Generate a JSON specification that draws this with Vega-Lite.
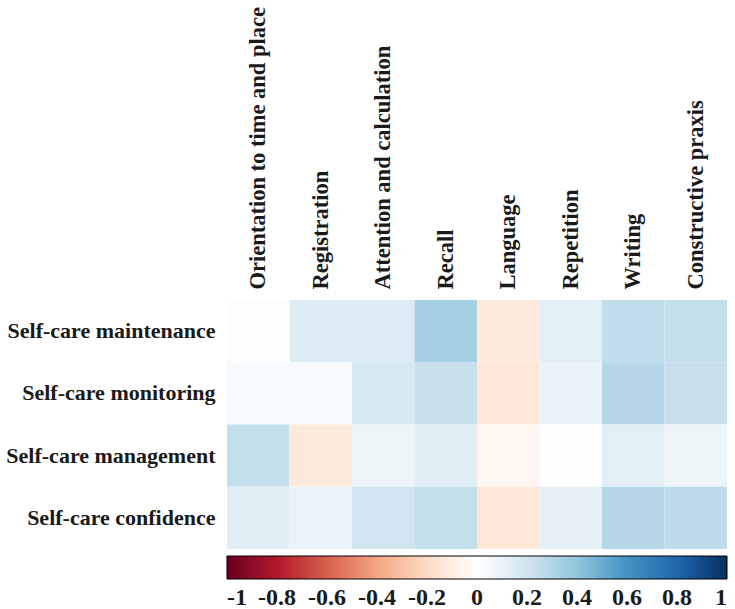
{
  "$schema": "https://vega.github.io/schema/vega-lite/v6.json",
  "autosize": {"type": "none"},
  "padding": {"left": 227, "top": 300, "right": 8, "bottom": 60},
  "width": 500,
  "height": 249,
  "background": "white",
  "config": {"view": {"stroke": null}, "font": "'Liberation Serif', 'Times New Roman', serif"},
  "data": {"values": [
    {"row": "Self-care maintenance", "col": "Orientation to time and place", "r": -0.01},
    {"row": "Self-care maintenance", "col": "Registration", "r": 0.15},
    {"row": "Self-care maintenance", "col": "Attention and calculation", "r": 0.15},
    {"row": "Self-care maintenance", "col": "Recall", "r": 0.34},
    {"row": "Self-care maintenance", "col": "Language", "r": -0.12},
    {"row": "Self-care maintenance", "col": "Repetition", "r": 0.12},
    {"row": "Self-care maintenance", "col": "Writing", "r": 0.25},
    {"row": "Self-care maintenance", "col": "Constructive praxis", "r": 0.24},
    {"row": "Self-care monitoring", "col": "Orientation to time and place", "r": 0.04},
    {"row": "Self-care monitoring", "col": "Registration", "r": 0.04},
    {"row": "Self-care monitoring", "col": "Attention and calculation", "r": 0.18},
    {"row": "Self-care monitoring", "col": "Recall", "r": 0.23},
    {"row": "Self-care monitoring", "col": "Language", "r": -0.14},
    {"row": "Self-care monitoring", "col": "Repetition", "r": 0.1},
    {"row": "Self-care monitoring", "col": "Writing", "r": 0.29},
    {"row": "Self-care monitoring", "col": "Constructive praxis", "r": 0.23},
    {"row": "Self-care management", "col": "Orientation to time and place", "r": 0.24},
    {"row": "Self-care management", "col": "Registration", "r": -0.12},
    {"row": "Self-care management", "col": "Attention and calculation", "r": 0.08},
    {"row": "Self-care management", "col": "Recall", "r": 0.13},
    {"row": "Self-care management", "col": "Language", "r": -0.05},
    {"row": "Self-care management", "col": "Repetition", "r": 0.01},
    {"row": "Self-care management", "col": "Writing", "r": 0.12},
    {"row": "Self-care management", "col": "Constructive praxis", "r": 0.08},
    {"row": "Self-care confidence", "col": "Orientation to time and place", "r": 0.13},
    {"row": "Self-care confidence", "col": "Registration", "r": 0.09},
    {"row": "Self-care confidence", "col": "Attention and calculation", "r": 0.2},
    {"row": "Self-care confidence", "col": "Recall", "r": 0.24},
    {"row": "Self-care confidence", "col": "Language", "r": -0.14},
    {"row": "Self-care confidence", "col": "Repetition", "r": 0.11},
    {"row": "Self-care confidence", "col": "Writing", "r": 0.29},
    {"row": "Self-care confidence", "col": "Constructive praxis", "r": 0.26}
  ]},
  "mark": {"type": "rect"},
  "encoding": {
    "x": {
      "field": "col", "type": "nominal", "title": null,
      "sort": ["Orientation to time and place", "Registration", "Attention and calculation", "Recall", "Language", "Repetition", "Writing", "Constructive praxis"],
      "scale": {"paddingInner": 0, "paddingOuter": 0},
      "axis": {"orient": "top", "labelAngle": -90, "labelAlign": "left", "labelBaseline": "middle", "ticks": false, "domain": false, "labelPadding": 11, "labelFont": "'Liberation Serif', 'Times New Roman', serif", "labelFontSize": 22.5, "labelFontWeight": "bold", "labelColor": "#1a1a1a", "labelLimit": 400}
    },
    "y": {
      "field": "row", "type": "nominal", "title": null,
      "sort": ["Self-care maintenance", "Self-care monitoring", "Self-care management", "Self-care confidence"],
      "scale": {"paddingInner": 0, "paddingOuter": 0},
      "axis": {"ticks": false, "domain": false, "labelPadding": 12, "labelFont": "'Liberation Serif', 'Times New Roman', serif", "labelFontSize": 22, "labelFontWeight": "bold", "labelColor": "#1a1a1a", "labelLimit": 300}
    },
    "color": {
      "field": "r", "type": "quantitative",
      "scale": {
        "domain": [-1, -0.8, -0.6, -0.4, -0.2, 0, 0.2, 0.4, 0.6, 0.8, 1],
        "range": ["#67001f", "#b2182b", "#d6604d", "#f4a582", "#fddbc7", "#ffffff", "#d1e5f0", "#92c5de", "#4393c3", "#2166ac", "#053061"],
        "interpolate": "rgb"
      },
      "legend": {
        "orient": "none", "legendX": 0, "legendY": 256, "direction": "horizontal", "title": null,
        "gradientLength": 500, "gradientThickness": 23,
        "gradientStrokeColor": "#000", "gradientStrokeWidth": 1,
        "values": [-1, -0.8, -0.6, -0.4, -0.2, 0, 0.2, 0.4, 0.6, 0.8, 1],
        "labelExpr": "toString(datum.value)",
        "labelAlign": "center", "labelFont": "'Liberation Serif', 'Times New Roman', serif", "labelFontSize": 24, "labelFontWeight": "bold", "labelColor": "#1a1a1a", "labelOffset": 7,
        "labelOverlap": false
      }
    }
  }
}
